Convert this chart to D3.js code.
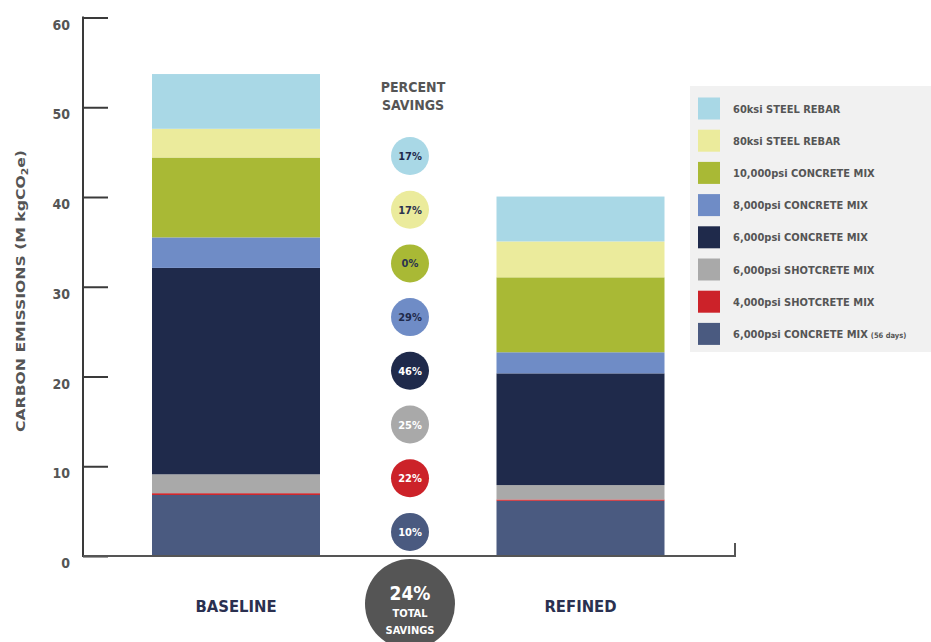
<!DOCTYPE html>
<html>
<head>
<meta charset="utf-8">
<script src="https://cdn.jsdelivr.net/npm/d3@7"></script>
<style>
  html, body { margin: 0; padding: 0; background: #fff; }
  svg { display: block; }
  text { font-family: 'DejaVu Sans Condensed', 'Liberation Sans Narrow', sans-serif; font-weight: bold; }
</style>
</head>
<body>
<svg id="chart" width="931" height="642"></svg>
<script>
// ---------- DATA ----------
const categories = ["BASELINE", "REFINED"];
// materials in legend order (top of stack first)
const materials = [
  "60ksi STEEL REBAR",
  "80ksi STEEL REBAR",
  "10,000psi CONCRETE MIX",
  "8,000psi CONCRETE MIX",
  "6,000psi CONCRETE MIX",
  "6,000psi SHOTCRETE MIX",
  "4,000psi SHOTCRETE MIX",
  "6,000psi CONCRETE MIX"
];
const materialNotes = ["", "", "", "", "", "", "", "(56 days)"];
const baselineValues = [6.1, 3.2, 8.9, 3.4, 23.0, 2.1, 0.2, 6.8];
const refinedValues  = [5.0, 4.0, 8.35, 2.35, 12.45, 1.6, 0.15, 6.15];
const savingsLabels  = ["17%", "17%", "0%", "29%", "46%", "25%", "22%", "10%"];
const totalSavings   = "24%";
const yTicks = [0, 10, 20, 30, 40, 50, 60];
const colors = ["#a9d8e6", "#ebeb9c", "#a9b935", "#6f8cc6", "#1f2a4b", "#a9a9a9", "#cc2229", "#4a5a80"];
const savingsTextColors = ["#1f2a4b", "#2b3350", "#2b3350", "#1f2a4b", "#ffffff", "#ffffff", "#ffffff", "#ffffff"];

// ---------- LAYOUT ----------
const svg = d3.select("#chart");
const axisX = 83, baseY = 556, topY = 17.5, axisEndX = 735;
const barW = 168;
const savingsX = 410;

const y = d3.scaleLinear().domain([0, 60]).range([baseY, topY]);
const x = d3.scalePoint().domain(categories).range([236, 580.5]);

// stack bottom-to-top = reverse legend order
const keys = materials.map((m, i) => i).reverse();
const rows = categories.map((c, ci) => {
  const vals = ci === 0 ? baselineValues : refinedValues;
  const r = { cat: c };
  materials.forEach((m, i) => r[i] = vals[i]);
  return r;
});
const stack = d3.stack().keys(keys)(rows);

// bars
const g = svg.append("g");
stack.forEach(layer => {
  g.selectAll(null).data(layer).enter().append("rect")
    .attr("x", d => x(d.data.cat) - barW / 2)
    .attr("width", barW)
    .attr("y", d => y(d[1]))
    .attr("height", d => y(d[0]) - y(d[1]))
    .attr("fill", colors[layer.key]);
});

// y axis
const yAxis = d3.axisRight(y).tickValues(yTicks).tickSize(25).tickFormat("");
const ya = svg.append("g").attr("transform", `translate(${axisX},0)`).call(yAxis);
ya.select(".domain").remove();
ya.selectAll(".tick line").attr("stroke", "#3a3a3a").attr("stroke-width", 2);
svg.append("line").attr("x1", axisX).attr("x2", axisX).attr("y1", topY - 1).attr("y2", baseY + 1)
  .attr("stroke", "#3a3a3a").attr("stroke-width", 2);
svg.selectAll(".ytl").data(yTicks).enter().append("text")
  .attr("x", 70).attr("y", d => y(d) + 12)
  .attr("text-anchor", "end").attr("font-size", 14).attr("fill", "#555")
  .text(d => d);

// x axis line with end tick
svg.append("path")
  .attr("d", `M${axisX},${baseY}H${axisEndX}V${baseY - 13}`)
  .attr("fill", "none").attr("stroke", "#555").attr("stroke-width", 2);

// y axis title
svg.append("text")
  .attr("transform", `translate(25,${291}) rotate(-90)`)
  .attr("text-anchor", "middle").attr("font-size", 13).attr("fill", "#555")
  .attr("textLength", 282).attr("lengthAdjust", "spacingAndGlyphs")
  .html('CARBON EMISSIONS (M kgCO<tspan font-size="9" dy="3">2</tspan><tspan dy="-3">e)</tspan>');

// category labels
svg.selectAll(".xl").data(categories).enter().append("text")
  .attr("x", d => x(d)).attr("y", 612)
  .attr("text-anchor", "middle").attr("font-size", 16.5).attr("fill", "#2a3050")
  .text(d => d);

// percent savings heading
svg.append("text").attr("x", savingsX + 3).attr("y", 92).attr("text-anchor", "middle")
  .attr("font-size", 14).attr("fill", "#555").text("PERCENT");
svg.append("text").attr("x", savingsX + 3).attr("y", 110).attr("text-anchor", "middle")
  .attr("font-size", 14).attr("fill", "#555").text("SAVINGS");

// savings circles
const sy = i => 156 + i * 53.7;
const sg = svg.selectAll(".sv").data(savingsLabels).enter().append("g")
  .attr("transform", (d, i) => `translate(${savingsX},${sy(i)})`);
sg.append("circle").attr("r", 19).attr("fill", (d, i) => colors[i]);
sg.append("text").attr("y", 4).attr("text-anchor", "middle").attr("font-size", 11)
  .attr("fill", (d, i) => savingsTextColors[i]).text(d => d);

// total savings circle
const tg = svg.append("g").attr("transform", `translate(${savingsX},604)`);
tg.append("circle").attr("r", 45).attr("fill", "#555555");
tg.append("text").attr("y", -4).attr("text-anchor", "middle").attr("font-size", 19).attr("fill", "#fff").text(totalSavings);
tg.append("text").attr("y", 13).attr("text-anchor", "middle").attr("font-size", 11).attr("fill", "#fff").text("TOTAL");
tg.append("text").attr("y", 30).attr("text-anchor", "middle").attr("font-size", 11).attr("fill", "#fff").text("SAVINGS");

// legend
const lg = svg.append("g");
lg.append("rect").attr("x", 690).attr("y", 86).attr("width", 260).attr("height", 266).attr("fill", "#f1f1f1");
const li = lg.selectAll(".li").data(materials).enter().append("g")
  .attr("transform", (d, i) => `translate(698,${97.5 + i * 32.2})`);
li.append("rect").attr("width", 22).attr("height", 22).attr("fill", (d, i) => colors[i]);
li.append("text").attr("x", 35).attr("y", 15).attr("font-size", 11).attr("fill", "#555")
  .each(function(d, i) {
    const t = d3.select(this);
    t.append("tspan").text(d);
    if (materialNotes[i]) t.append("tspan").attr("font-size", 7.5).attr("dx", 3).text(materialNotes[i]);
  });
</script>
</body>
</html>
